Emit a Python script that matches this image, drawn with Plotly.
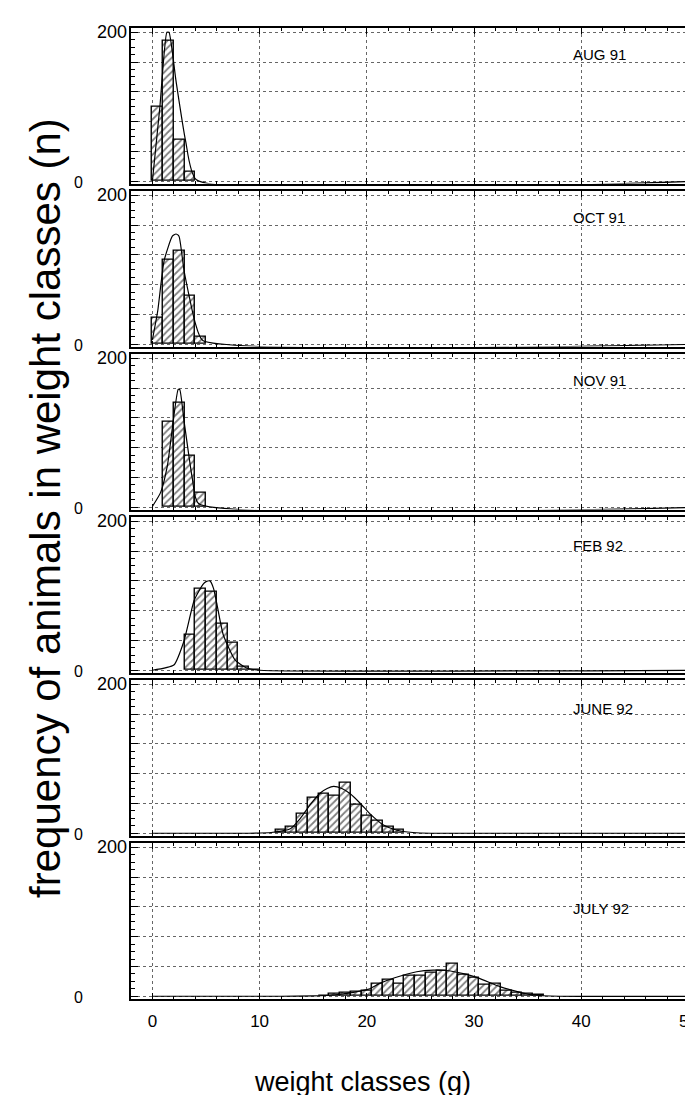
import plotly.graph_objects as go

W, H = 693, 1095

# ---------------- data ----------------
months = ["AUG 91", "OCT 91", "NOV 91", "FEB 92", "JUNE 92", "JULY 92"]
month_label_y = [170, 170, 170, 168, 168, 118]

aug_bins = [0.5, 1.5, 2.5, 3.5]
aug_n = [100, 188, 55, 13]
aug_fit_x = [0, 0.7, 1.35, 1.55, 2.2, 3.1, 4.1, 50.7]
aug_fit_y = [0, 100, 200, 200, 135, 54, 2, 0]

oct_bins = [0.5, 1.5, 2.5, 3.5, 4.5]
oct_n = [36, 114, 125, 65, 10]
oct_fit_x = [0, 0.5, 1.09, 1.86, 2.2, 2.48, 2.95, 3.97, 4.7, 50.7]
oct_fit_y = [6, 45, 112, 145, 148, 145, 99, 30, 5, 0]

nov_bins = [1.5, 2.5, 3.5, 4.5]
nov_n = [115, 140, 69, 19]
nov_fit_x = [0, 0.77, 1.4, 2.4, 2.55, 2.95, 3.72, 4.3, 50.7]
nov_fit_y = [1, 20, 56, 158, 158, 116, 39, 5, 0]

feb_bins = [3.5, 4.5, 5.5, 6.5, 7.5, 8.5, 9.5]
feb_n = [48, 110, 105, 62, 37, 4, 1]
feb_fit_x = [0, 2.0, 2.94, 3.9, 4.7, 5.0, 5.37, 5.7, 6.0, 6.6, 7.7, 8.8, 10, 50.7]
feb_fit_y = [0, 7, 39, 94, 115, 119, 120, 110, 90, 48, 14, 3, 0, 0]

jun_bins = [12, 13, 14, 15, 16, 17, 18, 19, 20, 21, 22, 23]
jun_n = [4, 9, 26, 48, 53, 50, 68, 38, 23, 17, 9, 4]
jun_fit_x = [0, 9, 11.07, 12.87, 13.8, 14.7, 15.66, 16.3, 16.9, 17.67, 18.45, 19.4, 20.3, 21.55, 22.8, 24.3, 26, 50.7]
jun_fit_y = [0, 0, 1, 6, 20, 38, 54, 60, 63, 60, 53, 40, 26, 11, 4, 1, 0, 0]

jul_bins = [16, 17, 18, 19, 20, 21, 22, 23, 24, 25, 26, 27, 28, 29, 30, 31, 32, 33, 34, 35, 36]
jul_n = [1, 3, 5, 6, 8, 17, 22, 17, 28, 28, 32, 34, 43, 29, 25, 15, 17, 8, 5, 3, 2]
jul_fit_x = [0, 12, 15, 16.9, 18.76, 20.2, 21.2, 22.6, 24.65, 26.2, 27.4, 29.3, 30.5, 32.4, 34.3, 35.5, 38, 50.7]
jul_fit_y = [0, 0, 0.5, 1.7, 5.3, 9.7, 17.3, 24.9, 32.9, 35, 34.6, 29.3, 24, 12.9, 5.3, 1.7, 0, 0]

x_ticks = [0, 10, 20, 30, 40, 50]
x_ticktext = ["0", "10", "20", "30", "40", "50"]

panels = [
    (aug_bins, aug_n, aug_fit_x, aug_fit_y),
    (oct_bins, oct_n, oct_fit_x, oct_fit_y),
    (nov_bins, nov_n, nov_fit_x, nov_fit_y),
    (feb_bins, feb_n, feb_fit_x, feb_fit_y),
    (jun_bins, jun_n, jun_fit_x, jun_fit_y),
    (jul_bins, jul_n, jul_fit_x, jul_fit_y),
]

# ---------------- layout geometry (pixels) ----------------
FONT = "Liberation Sans, Arial, Helvetica, sans-serif"
X_LEFT, X_RIGHT = 123.3, 690.0
PITCH = 163.0
FRAME_H = 155.7
BOTTOM0 = 175.5
Y_RANGE = [-3, 206]
X_RANGE = [-2.0, 50.7]
GRID = "#666"

fig = go.Figure()
layout = dict(
    width=W, height=H,
    margin=dict(l=0, r=0, t=0, b=0),
    paper_bgcolor="white", plot_bgcolor="white",
    showlegend=False,
    annotations=[],
)

for i, (bx, bn, fx, fy) in enumerate(panels):
    k = i + 1
    xa = "x" if k == 1 else f"x{k}"
    ya = "y" if k == 1 else f"y{k}"
    bottom = BOTTOM0 + PITCH * i
    top = bottom - FRAME_H

    fig.add_trace(go.Bar(
        x=bx, y=bn, width=1, xaxis=xa, yaxis=ya,
        marker=dict(
            color="white",
            line=dict(color="black", width=1.4),
            pattern=dict(shape="/", fgcolor="black", bgcolor="white",
                         size=5, solidity=0.35),
        ),
        hoverinfo="skip",
    ))
    fig.add_trace(go.Scatter(
        x=fx, y=fy, mode="lines", xaxis=xa, yaxis=ya,
        line=dict(color="black", width=1.2, shape="spline", smoothing=0.5),
        hoverinfo="skip",
    ))

    xkey = "xaxis" if k == 1 else f"xaxis{k}"
    ykey = "yaxis" if k == 1 else f"yaxis{k}"
    layout[xkey] = dict(
        domain=[X_LEFT / W, X_RIGHT / W], anchor=ya, range=X_RANGE,
        showline=True, linecolor="black", linewidth=1.6, mirror="ticks",
        ticks="inside", ticklen=6, tickwidth=1, tickcolor="black",
        tickmode="array", tickvals=x_ticks, ticktext=x_ticktext,
        showgrid=True, gridcolor=GRID, griddash="dot", gridwidth=1,
        minor=dict(ticks="inside", dtick=2, tick0=0, ticklen=3, tickcolor="black", showgrid=False),
        zeroline=False, showticklabels=(k == 6), ticklabelstandoff=6,
        tickfont=dict(family=FONT, size=17, color="black"),
        fixedrange=True,
    )
    layout[ykey] = dict(
        domain=[1 - bottom / H, 1 - top / H], anchor=xa, range=Y_RANGE,
        showline=True, linecolor="black", linewidth=1.6, mirror="ticks",
        ticks="inside", ticklen=7, tickwidth=1, tickcolor="black",
        dtick=40, tick0=0,
        showgrid=True, gridcolor=GRID, griddash="dot", gridwidth=1,
        minor=dict(ticks="inside", dtick=10, tick0=0, ticklen=4, tickcolor="black", showgrid=False),
        zeroline=False, showticklabels=False, fixedrange=True,
    )

    # month label
    layout["annotations"].append(dict(
        text=months[i], x=39, y=month_label_y[i], xref=xa, yref=ya,
        xanchor="left", yanchor="middle", showarrow=False,
        font=dict(family=FONT, size=15, color="black"),
    ))
    # "200" and "0" axis labels
    layout["annotations"].append(dict(
        text="200", x=121 / W, y=200, xref="paper", yref=ya,
        xanchor="right", yanchor="middle", showarrow=False,
        font=dict(family=FONT, size=18, color="black"),
    ))
    layout["annotations"].append(dict(
        text="0", x=71 / W, y=-1, xref="paper", yref=ya,
        xanchor="center", yanchor="middle", showarrow=False,
        font=dict(family=FONT, size=16, color="black"),
    ))

layout["annotations"].append(dict(
    text="frequency of animals in weight classes (n)",
    x=37 / W, y=1 - 500 / H, xref="paper", yref="paper",
    xanchor="center", yanchor="middle", textangle=-90, showarrow=False,
    font=dict(family=FONT, size=42, color="black"),
))
layout["annotations"].append(dict(
    text="weight classes (g)",
    x=356 / W, y=1 - 1074 / H, xref="paper", yref="paper",
    xanchor="center", yanchor="middle", showarrow=False,
    font=dict(family=FONT, size=27, color="black"),
))

layout["bargap"] = 0
fig.update_layout(**layout)
fig.write_html("out.html")
